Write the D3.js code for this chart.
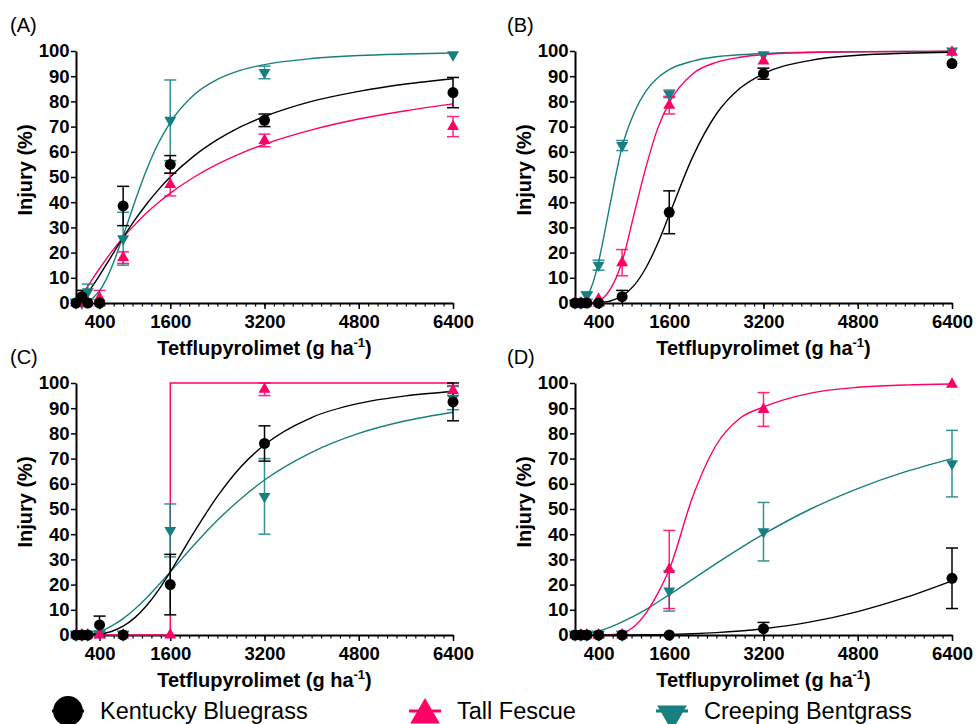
<!DOCTYPE html>
<html>
<head>
<meta charset="utf-8">
<script src="https://cdn.jsdelivr.net/npm/d3@7"></script>
<style>
body{margin:0;background:#fff}
svg{display:block}
</style>
</head>
<body>
<div id="chart"></div>
<script>

// -----------------------------
// DATA
// -----------------------------

const doses = [0,100,200,400,800,1600,3200,6400]
const speciesNames = ["Kentucky Bluegrass","Tall Fescue","Creeping Bentgrass"]
const xTicks = [400,1600,3200,4800,6400]
const yTicks = [0,10,20,30,40,50,60,70,80,90,100]
const panelLabels = ["(A)","(B)","(C)","(D)"]

// observed injury (%) and error, per panel
const kbgA = [0,2.5,0,0,38.5,55,72.5,83.5]
const kbgAErr = [0,2.5,0,0,7.8,3.5,2.5,6]
const tfA = [0,0,0,2,18,47,64.5,70]
const tfAErr = [0,0,0,3,2.3,4.5,2.5,4]
const cbA = [0,0,4.5,0,25.5,72.5,91.5,98.5]
const cbAErr = [1.5,0,3,0,10.5,16,2.5,0]

const kbgB = [0,0,0,0,2.5,36,91,95]
const kbgBErr = [0,0,0,0,2.5,8.5,2.2,0]
const tfB = [0,0,0,1.5,16,78.5,96,99.5]
const tfBErr = [0,0,0,0,5.2,3.5,0,0]
const cbB = [0,0,3,15,62.5,83,98.5,100]
const cbBErr = [1,0,1.5,2,2,1.5,0,0]

const kbgC = [0,0,0,4,0,20,76,92.5]
const kbgCErr = [0,0,0,3.5,0,12,7,7.5]
const tfC = [0,0,0,0,0,0,97.5,97]
const tfCErr = [0,0,0,0,0,0,2.5,2]
const cbC = [0,0,0,0.5,0,41.5,55,94]
const cbCErr = [1.5,1.5,1.5,1,1.5,10.5,15,4.6]

const kbgD = [0,0,0,0,0,0,2.5,22.5]
const kbgDErr = [0,0,0,0,0,0,2.5,12]
const tfD = [0,0,0,0,0,26,89.5,99.5]
const tfDErr = [0,0,0,0,0,15.5,6.7,0]
const cbD = [0,0,0,0,0,17.5,41,68]
const cbDErr = [1.5,1.5,1.5,1.5,1.5,8,11.6,13.2]

// fitted curves, read at these doses
const curveX = [0,100,200,300,400,500,600,800,1000,1200,1400,1600,2000,2400,2800,3200,4000,4800,5600,6400]

const kbgFitA = [0,1.5,4.1,7.4,11,14.7,18.5,26,33,39.3,45,50,58.3,64.8,70,74,80,84,86.9,89]
const tfFitA = [0,3.2,6.7,10.3,13.7,17,20.2,26,31.1,35.8,39.9,43.6,49.9,55.1,59.4,63,68.7,73,76.3,79]
const cbFitA = [0,0.1,0.7,2.3,4.9,8.8,13.9,26.6,40.3,53,63.5,71.6,82.5,88.7,92.4,94.6,97,98.2,98.8,99.2]

const kbgFitB = [0,0,0,0.05,0.15,0.4,0.8,2.8,6.9,13.8,23.4,35,58.1,75,85.2,91,96.3,98.3,99.1,99.5]
const tfFitB = [0,0,0,0.2,0.8,2.5,5.5,16.5,35,53.5,69,79.5,91,95.5,97.5,98.6,99.4,99.7,99.8,99.9]
const cbFitB = [0,0.3,2.4,7.6,16.3,27.6,39.7,62,75.3,84,89.3,92.6,96,97.7,98.5,99,99.5,99.7,99.8,99.9]

const kbgFitC = [0,0,0.04,0.15,0.4,0.8,1.4,3.5,6.9,11.7,17.8,25,40.6,55,66.8,75.5,86.3,91.9,94.9,96.6]
const tfFitCX = [0,1600,1600,6400]
const tfFitC = [0,0,100,100]
const cbFitC = [0,0.06,0.3,0.75,1.4,2.35,3.5,6.5,10.3,14.8,19.8,25,35.6,45.5,54.1,61.5,72.5,80,85,88.4]

const kbgFitD = [0,0,0,0,0,0,0,0.02,0.05,0.09,0.15,0.24,0.51,0.95,1.6,2.5,5.2,9.3,14.8,21.5]
const tfFitD = [0,0,0,0,0,0,0.1,0.8,3.3,8.5,16.3,26,55,75.5,86,90.5,96,98.3,99.2,99.6]
const cbFitD = [0,0.13,0.44,0.91,1.5,2.3,3.1,5.2,7.5,10.1,13,16,22.2,28.4,34.4,40,50,58.1,64.7,70]


// -----------------------------
// STYLE
// -----------------------------

const font = "Arial, 'Liberation Sans', sans-serif"
const colors = ["#000000","#ff0066","#177f7f"]
const shapes = ["circle","up","down"]

const W = 976
const H = 724
const pw = 377
const ph = 252

const layout = [
{left:76,top:51,lx:10,ly:32},
{left:575,top:51,lx:507,ly:32},
{left:76,top:383,lx:10,ly:364},
{left:575,top:383,lx:507,ly:364}
]

const panels = [
{
obs:[[kbgA,kbgAErr],[tfA,tfAErr],[cbA,cbAErr]],
fits:[[curveX,kbgFitA],[curveX,tfFitA],[curveX,cbFitA]]
},
{
obs:[[kbgB,kbgBErr],[tfB,tfBErr],[cbB,cbBErr]],
fits:[[curveX,kbgFitB],[curveX,tfFitB],[curveX,cbFitB]]
},
{
obs:[[kbgC,kbgCErr],[tfC,tfCErr],[cbC,cbCErr]],
fits:[[curveX,kbgFitC],[tfFitCX,tfFitC],[curveX,cbFitC]]
},
{
obs:[[kbgD,kbgDErr],[tfD,tfDErr],[cbD,cbDErr]],
fits:[[curveX,kbgFitD],[curveX,tfFitD],[curveX,cbFitD]]
}
]

const svg = d3.select("#chart")
.append("svg")
.attr("width",W)
.attr("height",H)
.attr("font-family",font)

svg.append("rect").attr("width",W).attr("height",H).attr("fill","#fff")


// -----------------------------
// MARKERS
// -----------------------------

function marker(sel,shape,size,color){
if(shape==="circle"){
sel.append("circle").attr("r",Math.sqrt(size/Math.PI)).attr("fill",color)
}else{
sel.append("path")
.attr("d",d3.symbol().type(d3.symbolTriangle).size(size)())
.attr("transform",shape==="down"?"rotate(180)":null)
.attr("fill",color)
}
}


// -----------------------------
// PANELS
// -----------------------------

panels.forEach((panel,pi)=>drawPanel(panel,layout[pi],panelLabels[pi]))

function drawPanel(panel,p,label){

const g = svg.append("g")
.attr("transform",`translate(${p.left},${p.top})`)

const x = d3.scaleLinear()
.domain([0,6400])
.range([0,pw])

const y = d3.scaleLinear()
.domain([0,100])
.range([ph,0])


// AXES

g.append("g")
.attr("transform",`translate(0,${ph})`)
.call(d3.axisBottom(x).tickValues(d3.range(0,6401,160)).tickSize(3.5).tickFormat(""))
.call(a=>a.select(".domain").remove())
.selectAll("line").attr("stroke-width",1.2)

const xa = g.append("g")
.attr("transform",`translate(0,${ph})`)
.call(d3.axisBottom(x).tickValues(xTicks).tickFormat(d3.format("d")).tickSize(6).tickSizeOuter(0).tickPadding(6))
.attr("font-family",font)
.attr("font-size",18.5)
.attr("font-weight","bold")

xa.select(".domain").attr("stroke-width",2)
xa.selectAll("line").attr("stroke-width",1.5)
xa.selectAll("text").attr("fill","#000")

const ya = g.append("g")
.call(d3.axisLeft(y).tickValues(yTicks).tickFormat(d3.format("d")).tickSize(5).tickSizeOuter(0).tickPadding(1.5))
.attr("font-family",font)
.attr("font-size",18.5)
.attr("font-weight","bold")

ya.select(".domain").attr("stroke-width",2)
ya.selectAll("line").attr("stroke-width",1.5)
ya.selectAll("text").attr("fill","#000")


// TITLES

const xt = svg.append("text")
.attr("x",p.left+pw/2)
.attr("y",p.top+ph+52)
.attr("text-anchor","middle")
.attr("font-size",20)
.attr("font-weight","bold")
.text("Tetflupyrolimet (g ha")
xt.append("tspan").attr("dy",-8).attr("font-size",13).text("-1")
xt.append("tspan").attr("dy",8).text(")")

svg.append("text")
.attr("transform",`translate(${p.left-44},${p.top+119}) rotate(-90)`)
.attr("text-anchor","middle")
.attr("font-size",20)
.attr("font-weight","bold")
.text("Injury (%)")

svg.append("text")
.attr("x",p.lx)
.attr("y",p.ly)
.attr("font-size",20)
.text(label)


// CURVES, ERROR BARS, POINTS (teal first, black on top)

const order = [2,1,0]

order.forEach(si=>{

const [fx,fy] = panel.fits[si]
const pts = fx.map((d,i)=>[d,fy[i]])

const line = d3.line()
.x(d=>x(d[0]))
.y(d=>y(d[1]))
.curve(si===1&&fx.length===4?d3.curveLinear:d3.curveMonotoneX)

g.append("path")
.datum(pts)
.attr("fill","none")
.attr("stroke",colors[si])
.attr("stroke-width",1.4)
.attr("d",line)

})

order.forEach(si=>{

const [vals,errs] = panel.obs[si]
const data = doses.map((d,i)=>({dose:d,v:vals[i],e:errs[i]}))

const eb = g.append("g")
.attr("stroke",colors[si])
.attr("stroke-width",1.5)
.attr("opacity",si===0?1:0.85)
.selectAll("g")
.data(data.filter(d=>d.e>0))
.enter()
.append("g")

eb.append("line")
.attr("x1",d=>x(d.dose)).attr("x2",d=>x(d.dose))
.attr("y1",d=>y(Math.max(0,d.v-d.e))).attr("y2",d=>y(Math.min(100,d.v+d.e)))

eb.append("line")
.attr("x1",d=>x(d.dose)-6).attr("x2",d=>x(d.dose)+6)
.attr("y1",d=>y(Math.min(100,d.v+d.e))).attr("y2",d=>y(Math.min(100,d.v+d.e)))

eb.filter(d=>d.v-d.e>0)
.append("line")
.attr("x1",d=>x(d.dose)-6).attr("x2",d=>x(d.dose)+6)
.attr("y1",d=>y(d.v-d.e)).attr("y2",d=>y(d.v-d.e))

})

order.forEach(si=>{

const [vals] = panel.obs[si]

g.selectAll(null)
.data(doses.map((d,i)=>({dose:d,v:vals[i]})))
.enter()
.append("g")
.attr("transform",d=>`translate(${x(d.dose)},${y(d.v)})`)
.each(function(){
marker(d3.select(this),shapes[si],si===0?95:62,colors[si])
})

})

}


// -----------------------------
// LEGEND
// -----------------------------

const legendX = [68,425,672]
const legendY = 711

speciesNames.forEach((name,i)=>{

const lg = svg.append("g")
.attr("transform",`translate(${legendX[i]},${legendY})`)

lg.append("line")
.attr("x1",-16).attr("x2",16)
.attr("stroke",colors[i])
.attr("stroke-width",3)

const m = lg.append("g").attr("transform",i===0?null:`translate(0,${i===1?4:3})`)
marker(m,shapes[i],i===0?700:380,colors[i])

lg.append("text")
.attr("x",i===0?32:32)
.attr("y",7.5)
.attr("font-size",23.5)
.attr("fill","#000")
.text(name)

})

</script>
</body>
</html>
